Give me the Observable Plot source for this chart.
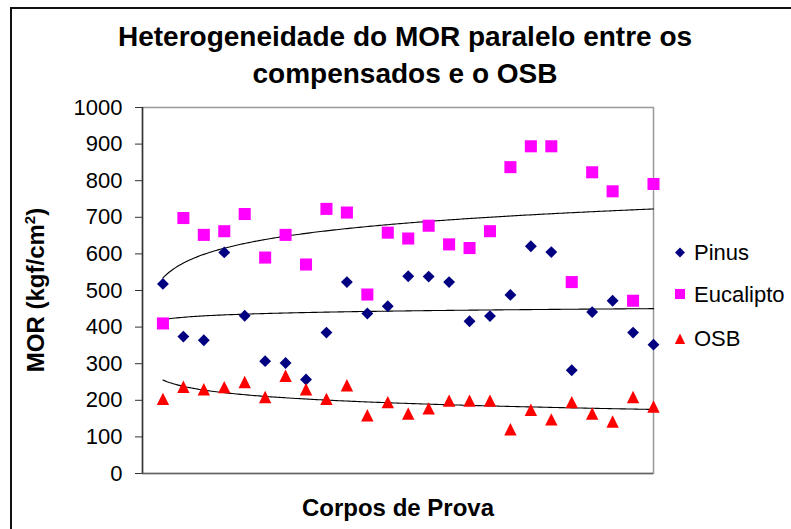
<!DOCTYPE html>
<html>
<head>
<meta charset="utf-8">
<script src="https://cdn.jsdelivr.net/npm/d3@7"></script>
<script src="https://cdn.jsdelivr.net/npm/@observablehq/plot@0.6"></script>
<style>
  html, body { margin: 0; padding: 0; background: #fff; }
  svg { display: block; }
</style>
</head>
<body>
<div id="chart"></div>
<script>
// ---- data ----
const samples = d3.range(1, 26); // corpos de prova 1..25
const pinus = [518, 374, 364, 604, 431, 307, 302, 257, 385, 523, 437, 457, 539, 538, 523, 416, 430, 488, 621, 605, 282, 441, 472, 385, 352];
const eucalipto = [410, 698, 652, 662, 709, 590, 652, 571, 723, 713, 489, 658, 642, 677, 626, 616, 662, 837, 894, 894, 523, 823, 771, 472, 791];
const osb = [204, 237, 230, 236, 250, 209, 267, 230, 204, 241, 159, 195, 164, 178, 199, 199, 199, 121, 174, 148, 195, 164, 142, 209, 183];
const seriesNames = ["Pinus", "Eucalipto", "OSB"];
const seriesColors = ["#000080", "#FF00FF", "#FF0000"];
const yTicks = d3.range(0, 1001, 100);
const titleLines = ["Heterogeneidade do MOR paralelo entre os", "compensados e o OSB"];
const xLabel = "Corpos de Prova";

// ---- marker symbols (Excel-like, width = height) ----
const diamond = { draw(ctx, size) { const h = Math.sqrt(size) / 2; ctx.moveTo(0, -h); ctx.lineTo(h, 0); ctx.lineTo(0, h); ctx.lineTo(-h, 0); ctx.closePath(); } };
const square = { draw(ctx, size) { const h = Math.sqrt(size) / 2; ctx.rect(-h, -h, 2 * h, 2 * h); } };
const triangle = { draw(ctx, size) { const h = Math.sqrt(size) / 2; ctx.moveTo(0, -h); ctx.lineTo(h, h); ctx.lineTo(-h, h); ctx.closePath(); } };
const symbols = [diamond, square, triangle];
const radii = [6.7, 6.8, 7.0];

const values = [pinus, eucalipto, osb];
const table = values.map((vals, s) => samples.map((x, i) => ({ x, y: vals[i], series: seriesNames[s] })));

// logarithmic trendlines (least squares fit on ln x), as Excel draws them
function logFit(vals) {
  const lx = samples.map(Math.log);
  const mx = d3.mean(lx), my = d3.mean(vals);
  const b = d3.sum(lx, (v, i) => (v - mx) * (vals[i] - my)) / d3.sum(lx, v => (v - mx) ** 2);
  const a = my - b * mx;
  return d3.range(1, 25.001, 0.1).map(x => ({ x, y: a + b * Math.log(x) }));
}
const trends = values.map(logFit);

const font = "'Liberation Sans', Arial, sans-serif";

const plot = Plot.plot({
  width: 791,
  height: 529,
  marginLeft: 142,
  marginRight: 138,
  marginTop: 107,
  marginBottom: 56,
  style: { fontFamily: font, background: "#fff", overflow: "visible" },
  x: { domain: [0, 25], axis: null },
  y: { domain: [0, 1000] },
  marks: [
    Plot.frame({ stroke: "#999", strokeWidth: 1.5 }),
    Plot.axisY({ ticks: yTicks, tickFormat: d3.format("d"), tickSize: 7, tickPadding: 13, fontSize: 22, stroke: "#333", color: "#000", label: null }),
    Plot.ruleY([0], { stroke: "#666", strokeWidth: 1.5 }),
    Plot.ruleX([0], { stroke: "#333", strokeWidth: 1.5 }),
    ...trends.map(t => Plot.line(t, { x: "x", y: "y", stroke: "#000", strokeWidth: 1.1 })),
    ...table.map((d, s) => Plot.dot(d, { x: "x", y: "y", symbol: symbols[s], r: radii[s], fill: seriesColors[s], stroke: "none" }))
  ]
});

document.getElementById("chart").appendChild(plot);
const svg = d3.select(plot);

// outer chart border
svg.append("rect").attr("x", 11).attr("y", 8).attr("width", 900).attr("height", 700)
  .attr("fill", "none").attr("stroke", "#111").attr("stroke-width", 2);

// title
svg.append("g").selectAll("text").data(titleLines).join("text")
  .attr("x", 405).attr("y", (d, i) => 46 + i * 37)
  .attr("text-anchor", "middle").attr("font-family", font).attr("font-weight", "bold")
  .attr("font-size", 28).attr("fill", "#000").text(d => d);

// x label
svg.append("text").attr("x", 398).attr("y", 516).attr("text-anchor", "middle")
  .attr("font-family", font).attr("font-weight", "bold").attr("font-size", 24).text(xLabel);

// y label with superscript
const yl = svg.append("text").attr("transform", "translate(44,290) rotate(-90)").attr("text-anchor", "middle")
  .attr("font-family", font).attr("font-weight", "bold").attr("font-size", 24);
yl.append("tspan").text("MOR (kgf/cm");
yl.append("tspan").attr("font-size", 15).attr("dy", -9).text("2");
yl.append("tspan").attr("dy", 9).text(")");

// legend
const legendY = [252.5, 294, 338.7];
const lg = svg.append("g");
seriesNames.forEach((name, s) => {
  const size = Math.PI * radii[s] * radii[s] * 0.7;
  lg.append("path").attr("transform", `translate(680,${legendY[s]})`)
    .attr("d", d3.symbol(symbols[s], size)()).attr("fill", seriesColors[s]);
  lg.append("text").attr("x", 694).attr("y", legendY[s] + 7.5).attr("text-anchor", "start")
    .attr("font-family", font).attr("font-size", 22).attr("fill", "#000").text(name);
});
</script>
</body>
</html>
